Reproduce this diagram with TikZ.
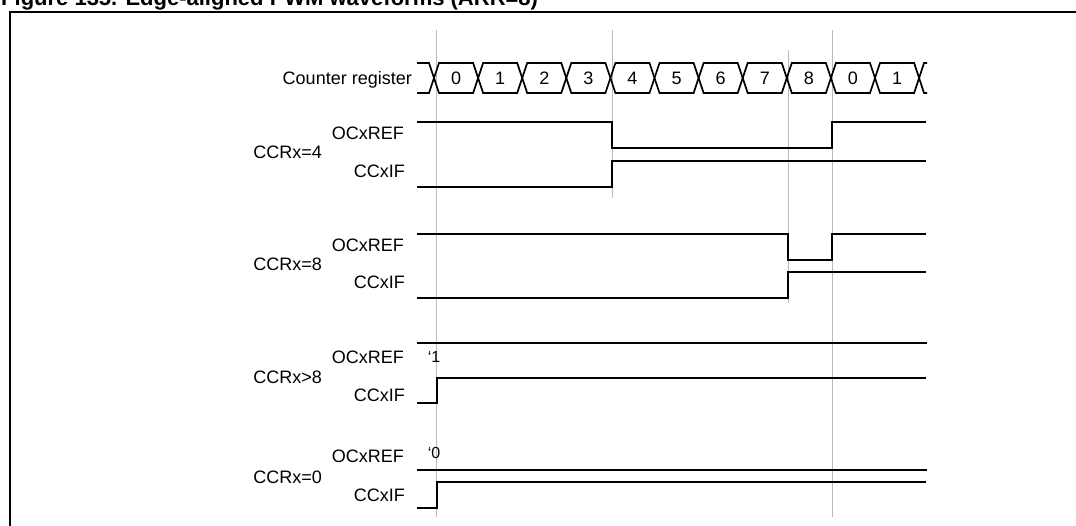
\documentclass[tikz,border=0pt]{standalone}
\usepackage{fontspec}
\setmainfont{Liberation Sans}
\usetikzlibrary{positioning,calc}
\tikzset{
  twtitle/.style={anchor=base west, inner sep=0pt, font=\bfseries\fontsize{22}{24}\selectfont},
  twframe/.style={line width=2pt},
  twgrid/.style={draw=black!27, line width=1pt},
  twsig/.style={line width=2pt, line join=miter},
  twbus/.style={line width=1.7pt, line join=miter},
  twlabel/.style={anchor=east, inner sep=0pt, text height=12.9pt, text depth=0pt, font=\fontsize{18}{20}\selectfont},
  twval/.style={inner sep=0pt, text height=12.9pt, text depth=0pt, font=\fontsize{18}{20}\selectfont},
  twnote/.style={inner sep=0pt, font=\fontsize{16}{18}\selectfont}
}

\begin{document}
\begin{tikzpicture}[x=1pt, y=-1pt]
  \useasboundingbox (0,0) rectangle (1076,526);
  % title and frame (cut by the page)
  \node[twtitle] (title) at (1,6) {Figure 135. Edge-aligned PWM waveforms (ARR=8)};
  \draw[twframe] (1100,12) -- (10,12) -- (10,560);

  % grey markers
  \draw[twgrid] (436,30) -- (436,517);
  \draw[twgrid] (612,30) -- (612,198);
  \draw[twgrid] (788,50) -- (788,303);
  \draw[twgrid] (832,30) -- (832,517);

  % counter register
  \node[twlabel] (cnt) at (412,78) {Counter register};
  \draw[twbus] (417,63) -- (429,63) -- (434,78) -- (429,93) -- (417,93);
  \foreach \v [count=\k from 0] in {0,1,2,3,4,5,6,7,8,0,1} {
    \pgfmathsetmacro{\xa}{434+44.1*\k}
    \pgfmathsetmacro{\xb}{\xa+44.1}
    \draw[twbus] (\xa,78) -- (\xa+5,63) -- (\xb-5,63) -- (\xb,78) -- (\xb-5,93) -- (\xa+5,93) -- cycle;
    \node[twval] (cell\k) at ({(\xa+\xb)/2},78) {\v};
  }
  \draw[twbus] (927,63) -- (924,63) -- (919.1,78) -- (924,93) -- (927,93);

  % CCRx=4
  \node[twlabel] (ccr4) at (322,152) {CCRx=4};
  \node[twlabel] (oc4) at (404,133) {OCxREF};
  \node[twlabel] (cc4) at (405,171) {CCxIF};
  \draw[twsig] (417,122) -- (612,122) -- (612,148) -- (832,148) -- (832,122) -- (926,122);
  \draw[twsig] (417,187) -- (612,187) -- (612,161) -- (926,161);

  % CCRx=8
  \node[twlabel] (ccr8) at (322,264) {CCRx=8};
  \node[twlabel] (oc8) at (404,245) {OCxREF};
  \node[twlabel] (cc8) at (405,282) {CCxIF};
  \draw[twsig] (417,234) -- (788,234) -- (788,260) -- (832,260) -- (832,234) -- (926,234);
  \draw[twsig] (417,298) -- (788,298) -- (788,272) -- (926,272);

  % CCRx>8
  \node[twlabel] (ccrg) at (322,377) {CCRx>8};
  \node[twlabel] (ocg) at (404,357) {OCxREF};
  \node[twlabel] (ccg) at (405,395) {CCxIF};
  \node[twnote] (one) at (434,357) {‘1};
  \draw[twsig] (417,343) -- (927,343);
  \draw[twsig] (417,403) -- (437,403) -- (437,378) -- (926,378);

  % CCRx=0
  \node[twlabel] (ccr0) at (322,477) {CCRx=0};
  \node[twlabel] (oc0) at (404,456) {OCxREF};
  \node[twlabel] (cc0) at (405,495) {CCxIF};
  \node[twnote] (zero) at (434,453) {‘0};
  \draw[twsig] (417,470) -- (927,470);
  \draw[twsig] (417,508) -- (437,508) -- (437,482) -- (926,482);
\end{tikzpicture}
\end{document}
